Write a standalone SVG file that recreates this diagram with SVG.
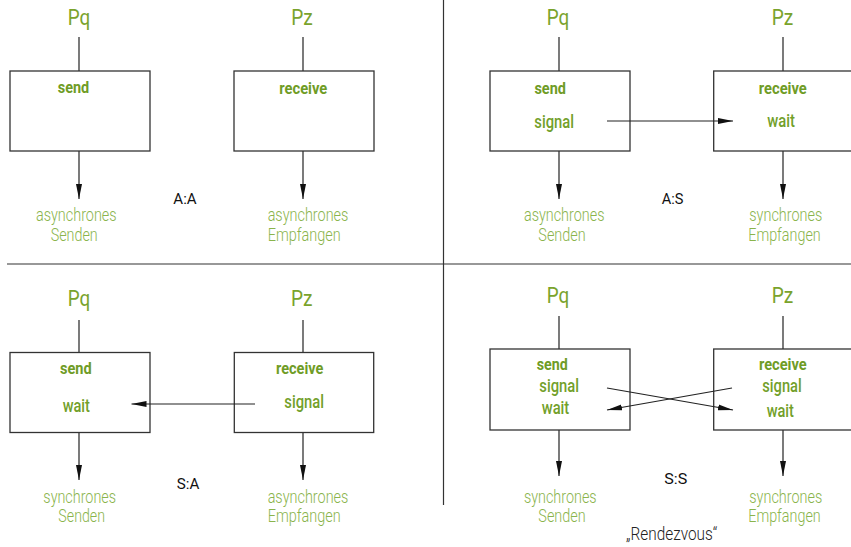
<svg xmlns="http://www.w3.org/2000/svg" width="851" height="547" viewBox="0 0 851 547">
<style>
text{font-family:Roboto,"Liberation Sans",sans-serif;text-anchor:middle}
.p{font-size:22px;fill:#7aa32c}
.b{font-size:17px;font-weight:bold;fill:#6f9c26}
.s{font-size:18px;font-weight:500;fill:#72a02a}
.l{font-size:17.5px;font-weight:300;fill:#8ab44c}
.k{font-size:15px;font-weight:400;fill:#111}
.box{fill:#fff;stroke:#333;stroke-width:1.3}
.ln{stroke:#222;stroke-width:1.2;fill:none}
.ar{stroke:#222;stroke-width:1.2;fill:none;marker-end:url(#ah)}
.div{stroke:#333;stroke-width:1.2}
</style>
<defs>
<marker id="ah" markerUnits="userSpaceOnUse" markerWidth="16" markerHeight="8" refX="15" refY="4" orient="auto">
<path d="M0,1 L15,4 L0,7 Z" fill="#111"/>
</marker>
</defs>
<rect width="851" height="547" fill="#fff"/>
<g id="dividers">
<line class="div" x1="443.5" y1="0" x2="443.5" y2="505"/>
<line class="div" x1="7" y1="264" x2="851" y2="264"/>
</g>
<g id="connectors">
<line class="ln" x1="79" y1="37" x2="79" y2="71"/>
<line class="ln" x1="303" y1="37" x2="303" y2="71"/>
<line class="ar" x1="79" y1="151" x2="79" y2="199"/>
<line class="ar" x1="303" y1="151" x2="303" y2="199"/>
<line class="ln" x1="559" y1="37" x2="559" y2="71"/>
<line class="ln" x1="783" y1="37" x2="783" y2="71"/>
<line class="ar" x1="559" y1="151" x2="559" y2="199"/>
<line class="ar" x1="783" y1="151" x2="783" y2="199"/>
<line class="ln" x1="79" y1="320" x2="79" y2="352.5"/>
<line class="ln" x1="303" y1="320" x2="303" y2="352.5"/>
<line class="ar" x1="79" y1="432.5" x2="79" y2="480"/>
<line class="ar" x1="303" y1="432.5" x2="303" y2="480"/>
<line class="ln" x1="559" y1="316" x2="559" y2="349"/>
<line class="ln" x1="783" y1="316" x2="783" y2="349"/>
<line class="ar" x1="559" y1="430" x2="559" y2="476"/>
<line class="ar" x1="783" y1="430" x2="783" y2="476"/>
</g>
<g id="aa">
<text class="p" x="79" y="25" textLength="22.5" lengthAdjust="spacingAndGlyphs">Pq</text>
<text class="p" x="302" y="25" textLength="21.5" lengthAdjust="spacingAndGlyphs">Pz</text>
<g id="aa-send"><rect class="box" x="10" y="71" width="140" height="80"/>
<text class="b" x="73.5" y="93" textLength="31.5" lengthAdjust="spacingAndGlyphs">send</text></g>
<g id="aa-receive"><rect class="box" x="234" y="71" width="140" height="80"/>
<text class="b" x="303.3" y="94" textLength="48" lengthAdjust="spacingAndGlyphs">receive</text></g>
<text class="k" x="185" y="204" textLength="23.3" lengthAdjust="spacingAndGlyphs">A:A</text>
<text class="l" x="76.3" y="221" textLength="80.7" lengthAdjust="spacingAndGlyphs">asynchrones</text>
<text class="l" x="74.2" y="241" textLength="47" lengthAdjust="spacingAndGlyphs">Senden</text>
<text class="l" x="308" y="221" textLength="80.7" lengthAdjust="spacingAndGlyphs">asynchrones</text>
<text class="l" x="304.2" y="241" textLength="73" lengthAdjust="spacingAndGlyphs">Empfangen</text>
</g>
<g id="as">
<text class="p" x="558" y="25" textLength="22.5" lengthAdjust="spacingAndGlyphs">Pq</text>
<text class="p" x="782.5" y="25" textLength="21.5" lengthAdjust="spacingAndGlyphs">Pz</text>
<g id="as-send"><rect class="box" x="490" y="71" width="140" height="80"/>
<text class="b" x="550.2" y="94" textLength="31.5" lengthAdjust="spacingAndGlyphs">send</text>
<text class="s" x="554.2" y="127.5" textLength="39.7" lengthAdjust="spacingAndGlyphs">signal</text></g>
<g id="as-receive"><rect class="box" x="713.7" y="71" width="150" height="80"/>
<text class="b" x="782.8" y="94" textLength="48" lengthAdjust="spacingAndGlyphs">receive</text>
<text class="s" x="781.2" y="127" textLength="27.7" lengthAdjust="spacingAndGlyphs">wait</text></g>
<line class="ar" x1="607" y1="121" x2="733" y2="121"/>
<text class="k" x="672.5" y="204" textLength="21.7" lengthAdjust="spacingAndGlyphs">A:S</text>
<text class="l" x="564.2" y="221" textLength="80.5" lengthAdjust="spacingAndGlyphs">asynchrones</text>
<text class="l" x="562" y="241" textLength="47.3" lengthAdjust="spacingAndGlyphs">Senden</text>
<text class="l" x="785.8" y="221" textLength="73" lengthAdjust="spacingAndGlyphs">synchrones</text>
<text class="l" x="784.5" y="241" textLength="72.4" lengthAdjust="spacingAndGlyphs">Empfangen</text>
</g>
<g id="sa">
<text class="p" x="79" y="306" textLength="22.5" lengthAdjust="spacingAndGlyphs">Pq</text>
<text class="p" x="301.7" y="306" textLength="21.5" lengthAdjust="spacingAndGlyphs">Pz</text>
<g id="sa-send"><rect class="box" x="10" y="352.5" width="140" height="80"/>
<text class="b" x="75.8" y="374.3" textLength="31.7" lengthAdjust="spacingAndGlyphs">send</text>
<text class="s" x="76.3" y="412.3" textLength="27.3" lengthAdjust="spacingAndGlyphs">wait</text></g>
<g id="sa-receive"><rect class="box" x="234.3" y="352.5" width="139.4" height="80"/>
<text class="b" x="299.7" y="374.3" textLength="47.3" lengthAdjust="spacingAndGlyphs">receive</text>
<text class="s" x="304.2" y="407.7" textLength="39.7" lengthAdjust="spacingAndGlyphs">signal</text></g>
<line class="ar" x1="255" y1="404" x2="131.5" y2="404"/>
<text class="k" x="188" y="489.3" textLength="22.6" lengthAdjust="spacingAndGlyphs">S:A</text>
<text class="l" x="79.7" y="502.5" textLength="72.7" lengthAdjust="spacingAndGlyphs">synchrones</text>
<text class="l" x="81.7" y="521.7" textLength="46.7" lengthAdjust="spacingAndGlyphs">Senden</text>
<text class="l" x="308" y="502.5" textLength="80.7" lengthAdjust="spacingAndGlyphs">asynchrones</text>
<text class="l" x="304.2" y="521.7" textLength="73" lengthAdjust="spacingAndGlyphs">Empfangen</text>
</g>
<g id="ss">
<text class="p" x="558" y="303.3" textLength="22.5" lengthAdjust="spacingAndGlyphs">Pq</text>
<text class="p" x="782.5" y="303.3" textLength="21.5" lengthAdjust="spacingAndGlyphs">Pz</text>
<g id="ss-send"><rect class="box" x="490" y="349" width="140" height="81"/>
<text class="b" x="552.2" y="370" textLength="31" lengthAdjust="spacingAndGlyphs">send</text>
<text class="s" x="559.2" y="392.3" textLength="39.7" lengthAdjust="spacingAndGlyphs">signal</text>
<text class="s" x="555.5" y="414.3" textLength="27.6" lengthAdjust="spacingAndGlyphs">wait</text></g>
<g id="ss-receive"><rect class="box" x="713.7" y="349" width="150" height="81"/>
<text class="b" x="782.8" y="370" textLength="47.7" lengthAdjust="spacingAndGlyphs">receive</text>
<text class="s" x="782" y="392.3" textLength="39.4" lengthAdjust="spacingAndGlyphs">signal</text>
<text class="s" x="780.3" y="417.3" textLength="27.3" lengthAdjust="spacingAndGlyphs">wait</text></g>
<line class="ar" x1="607" y1="388" x2="733" y2="410"/>
<line class="ar" x1="732" y1="388" x2="607" y2="410"/>
<text class="k" x="675.8" y="484.3" textLength="23" lengthAdjust="spacingAndGlyphs">S:S</text>
<text class="l" x="560.3" y="502.7" textLength="72.7" lengthAdjust="spacingAndGlyphs">synchrones</text>
<text class="l" x="562" y="521.7" textLength="47.3" lengthAdjust="spacingAndGlyphs">Senden</text>
<text class="l" x="785.8" y="502.7" textLength="73" lengthAdjust="spacingAndGlyphs">synchrones</text>
<text class="l" x="784.5" y="521.7" textLength="72.4" lengthAdjust="spacingAndGlyphs">Empfangen</text>
<text class="l" x="671.7" y="540" textLength="91.3" lengthAdjust="spacingAndGlyphs" style="fill:#222">„Rendezvous“</text>
</g>
</svg>
